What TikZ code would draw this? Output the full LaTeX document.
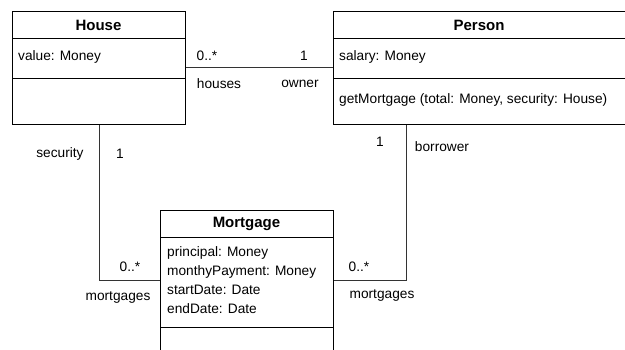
\documentclass[tikz,border=0pt]{standalone}
\usepackage{fontspec}
\setmainfont{Liberation Sans}
\usepackage{tikz}

\begin{document}
\begin{tikzpicture}[x=1pt, y=-1pt,
    every node/.style={font=\fontsize{13.7}{18}\selectfont, inner sep=0pt},
    classbox/.style={draw, line width=1pt, rectangle, anchor=north west},
    title/.style={font=\fontsize{15}{18}\selectfont\bfseries},
    link/.style={draw=black!80, line width=1pt}]
    \useasboundingbox (0,0) rectangle (625,350);
    \clip (0,0) rectangle (625,350);

    % classes
    \node[classbox, minimum width=173pt, minimum height=113pt] (house) at (12,11) {};
    \node[classbox, minimum width=300pt, minimum height=113pt] (person) at (333,11) {};
    \node[classbox, minimum width=173pt, minimum height=160pt] (mortgage) at (160,210) {};

    \draw[line width=1pt] (12,39) -- (185,39);
    \draw[line width=1pt] (12,79) -- (185,79);
    \draw[line width=1pt] (333,39) -- (633,39);
    \draw[line width=1pt] (333,79) -- (633,79);
    \draw[line width=1pt] (160,238) -- (333,238);
    \draw[line width=1pt] (160,328) -- (333,328);

    \node[title] (houseT) at (98.5,25) {House};
    \node[title] (personT) at (479,25) {Person};
    \node[title] (mortgageT) at (246.5,224) {Mortgage};

    \node[anchor=west] (houseA) at (18,57) {value: Money};
    \node[anchor=west] (personA) at (339,57) {salary: Money};
    \node[anchor=west] (personO) at (339,100) {getMortgage (total: Money, security: House)};
    \node[anchor=north west, align=left, font=\fontsize{13.7}{19}\selectfont] (mortgageA) at (167,246)
        {principal: Money\\monthyPayment: Money\\startDate: Date\\endDate: Date};

    % associations
    \draw[link] (house.east |- 0,68) -- (person.west |- 0,68);
    \draw[link] (house.south) |- (mortgage.west |- 0,281);
    \draw[link] ([xshift=73pt]person.south west) |- (mortgage.east |- 0,281);

    % roles and multiplicities
    \node (m1) at (207,56) {0..*};
    \node (m2) at (304,56) {1};
    \node (r1) at (219,84) {houses};
    \node (r2) at (300,84) {owner};
    \node (r3) at (60,154) {security};
    \node (m3) at (120,154) {1};
    \node (m4) at (130,267) {0..*};
    \node (r4) at (118,297) {mortgages};
    \node (m5) at (380,142) {1};
    \node (r5) at (442,147) {borrower};
    \node (m6) at (359,267) {0..*};
    \node (r6) at (382,295) {mortgages};
\end{tikzpicture}
\end{document}
